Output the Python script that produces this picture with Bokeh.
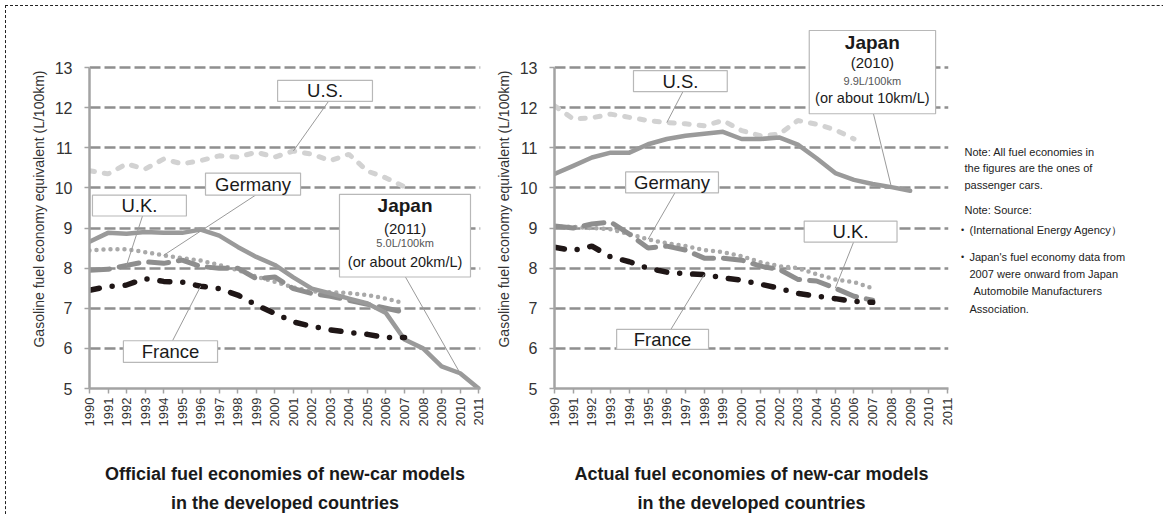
import math
from bokeh.plotting import figure
from bokeh.models import FixedTicker, Label, Div, Title, Range1d
from bokeh.layouts import row
from bokeh.embed import file_html
from bokeh.resources import INLINE

# ---------------- data ----------------
years = list(range(1990, 2012))
years_07 = list(range(1990, 2008))
years_06 = list(range(1990, 2007))
years_09 = list(range(1990, 2010))

# Official fuel economies (L/100km)
us_off = [10.43, 10.35, 10.60, 10.47, 10.72, 10.60, 10.68, 10.80, 10.77, 10.89,
          10.77, 10.92, 10.84, 10.68, 10.84, 10.42, 10.25, 10.03]
jp_off = [8.66, 8.88, 8.86, 8.90, 8.88, 8.88, 8.96, 8.81, 8.53, 8.28, 8.08,
          7.77, 7.49, 7.37, 7.24, 7.12, 6.88, 6.22, 6.00, 5.55, 5.38, 5.00]
de_off = [8.44, 8.47, 8.47, 8.40, 8.32, 8.25, 8.19, 8.08, 7.95, 7.79, 7.66,
          7.52, 7.42, 7.40, 7.38, 7.33, 7.24, 7.12]
uk_off = [7.95, 7.97, 8.07, 8.16, 8.12, 8.20, 8.04, 8.00, 8.00, 7.74, 7.78,
          7.49, 7.37, 7.30, 7.20, 7.10, 7.00, 6.90]
fr_off = [7.45, 7.54, 7.58, 7.74, 7.67, 7.65, 7.55, 7.49, 7.33, 7.08, 6.87,
          6.66, 6.55, 6.46, 6.40, 6.35, 6.27, 6.27]

# Actual fuel economies (L/100km)
us_act = [12.05, 11.72, 11.75, 11.84, 11.76, 11.68, 11.63, 11.60, 11.55, 11.68,
          11.43, 11.30, 11.34, 11.68, 11.59, 11.45, 11.22]
jp_act = [10.35, 10.55, 10.76, 10.88, 10.88, 11.09, 11.22, 11.30, 11.35, 11.40,
          11.22, 11.22, 11.26, 11.08, 10.74, 10.37, 10.20, 10.10, 10.02, 9.93]
de_act = [9.03, 9.03, 9.00, 8.97, 8.85, 8.72, 8.62, 8.55, 8.45, 8.40, 8.30,
          8.15, 8.05, 8.00, 7.85, 7.72, 7.65, 7.50]
uk_act = [9.05, 9.00, 9.10, 9.15, 8.85, 8.50, 8.55, 8.45, 8.25, 8.25, 8.20,
          8.05, 7.97, 7.72, 7.68, 7.50, 7.30, 7.20]
fr_act = [8.52, 8.44, 8.55, 8.28, 8.16, 8.00, 7.90, 7.86, 7.84, 7.76, 7.70,
          7.60, 7.50, 7.37, 7.30, 7.24, 7.17, 7.15]

y_ticks = [5, 6, 7, 8, 9, 10, 11, 12, 13]
y_title = "Gasoline fuel economy equivalent (L/100km)"
title_left = ["Official fuel economies of new-car models", "in the developed countries"]
title_right = ["Actual fuel economies of new-car models", "in the developed countries"]
notes = [
    "Note: All fuel economies in",
    "the figures are the ones of",
    "passenger cars.",
    "Note: Source:",
    "(International Energy Agency\uff09",
    "Japan's fuel economy data from",
    "2007 were onward from Japan",
    " Automobile Manufacturers",
    "Association.",
]

# ---------------- styles ----------------
FONT = "Liberation Sans"
TXT = "#1a1a1a"
AX = "#a3a3a3"
H = 514
TOP = 29
BOTTOM = H - 389


def make_fig(width, mbl, mbr, xend):
    p = figure(width=width, height=H, x_range=(1990, xend), y_range=(5, 13.95),
               output_backend="svg", toolbar_location=None,
               min_border_left=mbl, min_border_right=mbr,
               min_border_top=TOP, min_border_bottom=BOTTOM)
    p.outline_line_color = None
    p.background_fill_color = "white"
    p.border_fill_color = "white"
    p.xgrid.visible = False
    p.ygrid.grid_line_color = "#8f8f8f"
    p.ygrid.grid_line_width = 2.5
    p.ygrid.grid_line_dash = "11 4"
    p.ygrid.ticker = FixedTicker(ticks=y_ticks)

    p.xaxis.ticker = FixedTicker(ticks=years)
    p.yaxis.ticker = FixedTicker(ticks=y_ticks)
    p.yaxis.bounds = (5, 13)
    for ax in (p.xaxis, p.yaxis):
        ax.axis_line_color = AX
        ax.axis_line_width = 2.5
        ax.major_tick_line_color = AX
        ax.major_tick_line_width = 1.5
        ax.major_tick_in = 0
        ax.major_tick_out = 5
        ax.minor_tick_line_color = None
        ax.major_label_text_font = FONT
        ax.major_label_text_color = "#333333"
    p.xaxis.major_label_orientation = math.pi / 2
    p.xaxis.major_label_text_font_size = "13px"
    p.xaxis.major_label_standoff = 4
    p.yaxis.major_label_text_font_size = "16px"
    p.yaxis.major_label_standoff = 12
    p.yaxis.axis_label = y_title
    p.yaxis.axis_label_text_font = FONT
    p.yaxis.axis_label_text_font_style = "normal"
    p.yaxis.axis_label_text_font_size = "14px"
    p.yaxis.axis_label_text_color = "#333333"
    p.yaxis.axis_label_standoff = 5
    return p


def add_titles(p, lines):
    # spacer between the year labels and the two-line caption
    p.add_layout(Title(text=" ", text_font_size="1px", standoff=24), "below")
    for txt, so in zip(lines, (10, 4)):
        p.add_layout(Title(text=txt, align="center", text_font=FONT, text_font_size="18px",
                           text_font_style="bold", text_color=TXT, standoff=so), "below")


def draw_series(p, us_x, us, jp_x, jp, de, uk, fr, x07):
    p.line(us_x, us, line_color="#d2d2d2", line_width=5, line_dash="5 10", line_cap="round")
    p.line(x07, de, line_color="#a9a9a9", line_width=4.5, line_dash="0 7", line_cap="round")
    p.line(x07, uk, line_color="#8e8e8e", line_width=5, line_dash="20 10", line_cap="round")
    p.line(jp_x, jp, line_color="#9a9a9a", line_width=4.5, line_join="round", line_cap="round")
    p.line(x07, fr, line_color="#1f1616", line_width=5.5, line_dash="10 13 0 13", line_cap="round")


def callout(p, l, r, b, t, text, x_end, y_end, x_start, y_start, size="18.5px"):
    p.segment(x0=[x_start], y0=[y_start], x1=[x_end], y1=[y_end], line_color="#9a9a9a", line_width=1)
    p.quad(left=[l], right=[r], bottom=[b], top=[t], fill_color="white", line_color="#b8b8b8", line_width=1.2)
    if text:
        p.add_layout(Label(x=(l + r) / 2, y=(b + t) / 2, text=text, text_align="center",
                           text_baseline="middle", text_font=FONT, text_font_size=size,
                           text_color=TXT))


def lab(p, x, y, text, size, style="normal", color=TXT, font=FONT, align="center"):
    p.add_layout(Label(x=x, y=y, text=text, text_align=align, text_baseline="middle",
                       text_font=font, text_font_size=size, text_font_style=style,
                       text_color=color))


# ---------------- left chart ----------------
left = make_fig(492, 89, 12, 2011.1)
draw_series(left, years_07, us_off, years, jp_off, de_off, uk_off, fr_off, years_07)

callout(left, 2000.15, 2005.27, 12.16, 12.68, "U.S.",
        2001, us_off[years_07.index(2001)], 2002.9, 12.16)
callout(left, 1996.26, 2001.39, 9.82, 10.37, "Germany",
        1994, de_off[years_07.index(1994)], 1998.96, 9.82)
callout(left, 1990.16, 1995.23, 9.30, 9.82, "U.K.",
        1992, uk_off[years_07.index(1992)], 1992.86, 9.30)
callout(left, 1991.83, 1996.91, 5.65, 6.19, "France",
        1996, fr_off[years_07.index(1996)], 1994.48, 6.19)
callout(left, 2003.49, 2010.56, 7.78, 9.84, "",
        2010, jp_off[years.index(2010)], 2007.05, 7.78)
lab(left, 2007.03, 9.55, "Japan", "19px", "bold")
lab(left, 2007.03, 9.00, "(2011)", "15px")
lab(left, 2007.03, 8.63, "5.0L/100km", "11px", color="#555555")
lab(left, 2007.03, 8.16, "(or about 20km/L)", "14.5px")
add_titles(left, title_left)

# ---------------- right chart ----------------
right = make_fig(468, 58, 12, 2011.05)
draw_series(right, years_06, us_act, years_09, jp_act, de_act, uk_act, fr_act, years_07)

callout(right, 1994.22, 1999.23, 12.40, 12.925, "U.S.",
        1996, us_act[years_06.index(1996)], 1996.86, 12.40)
callout(right, 1993.80, 1998.76, 9.875, 10.40, "Germany",
        1995, de_act[years_07.index(1995)], 1996.43, 9.875)
callout(right, 2003.34, 2008.30, 8.65, 9.175, "U.K.",
        2005, uk_act[years_07.index(2005)], 2005.98, 8.65)
callout(right, 1993.32, 1998.23, 5.975, 6.475, "France",
        1998, fr_act[years_07.index(1998)], 1996.22, 6.475)
callout(right, 2003.61, 2010.36, 11.85, 13.925, "",
        2008, jp_act[years_09.index(2008)], 2007.04, 11.85)
lab(right, 2006.98, 13.625, "Japan", "19px", "bold")
lab(right, 2006.98, 13.125, "(2010)", "15px")
lab(right, 2006.98, 12.675, "9.9L/100km", "11px", color="#555555")
lab(right, 2006.98, 12.25, "(or about 10km/L)", "14.5px")
add_titles(right, title_right)

# ---------------- notes panel ----------------
notes_fig = figure(width=195, height=H, x_range=Range1d(0, 195), y_range=Range1d(389, 29),
                   output_backend="svg", toolbar_location=None, min_border_left=0,
                   min_border_right=0, min_border_top=TOP, min_border_bottom=BOTTOM)
notes_fig.axis.visible = False
notes_fig.grid.visible = False
notes_fig.outline_line_color = None
note_x = [4, 4, 4, 4, 9, 9, 9, 13, 9]
note_y = [151.7, 168.3, 185, 210, 230, 256.7, 274, 291.7, 309]
for nx, ny, nt in zip(note_x, note_y, notes):
    lab(notes_fig, nx, ny, nt, "11px", align="left", color="#222222")
for by in (230, 256.7):
    lab(notes_fig, 2, by, "\u2022", "9px", align="center", color="#222222")

border = Div(text='<div style="position:fixed;left:5px;top:5px;width:1400px;height:900px;'
                  'border-top:1px dashed #222;border-left:1px dashed #222;pointer-events:none;"></div>',
             width=1, height=1)

layout = row(left, right, notes_fig, border)
open("out.html", "w").write(file_html(layout, INLINE))
